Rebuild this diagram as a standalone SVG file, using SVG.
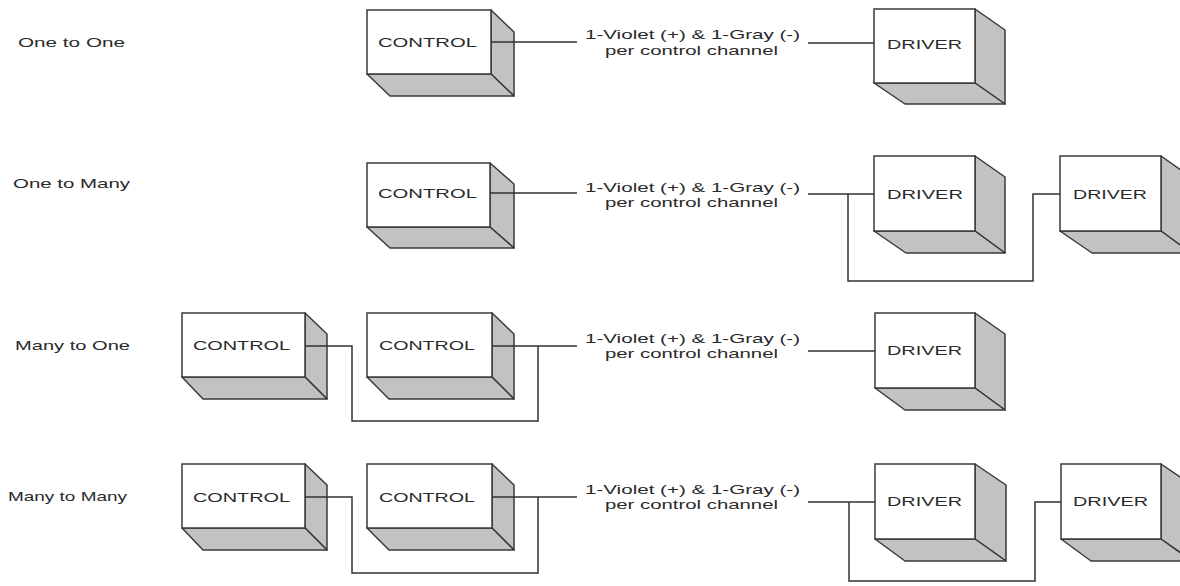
<svg xmlns="http://www.w3.org/2000/svg" width="1180" height="586" viewBox="0 0 1180 586">
  <style>
    .front { fill: #ffffff; stroke: #3a3a3a; stroke-width: 1.5; }
    .face { fill: #c2c2c2; stroke: #3a3a3a; stroke-width: 1.5; stroke-linejoin: round; }
    .lbl { font-family: "Liberation Sans", Arial, sans-serif; font-size: 13.5px; fill: #2a2a2a; }
    .wire { fill: none; stroke: #333333; stroke-width: 1.5; }
  </style>
  <rect width="1180" height="586" fill="#ffffff"/>

  <!-- row titles -->
  <g id="titles">
    <text class="lbl" x="18" y="47" textLength="107" lengthAdjust="spacingAndGlyphs">One to One</text>
    <text class="lbl" x="13" y="188" textLength="117" lengthAdjust="spacingAndGlyphs">One to Many</text>
    <text class="lbl" x="15" y="350" textLength="115" lengthAdjust="spacingAndGlyphs">Many to One</text>
    <text class="lbl" x="8" y="501" textLength="119" lengthAdjust="spacingAndGlyphs">Many to Many</text>
  </g>

  <!-- Row 1 -->
  <g id="r1-control">
    <polygon class="face" points="491,10 514,32 514,96 491,74"/>
    <polygon class="face" points="367,74 491,74 514,96 390,96"/>
    <rect class="front" x="367" y="10" width="124" height="64"/>
    <text class="lbl" x="378" y="47" textLength="99" lengthAdjust="spacingAndGlyphs">CONTROL</text>
  </g>
  <g id="r1-driver">
    <polygon class="face" points="975,9 1005,30 1005,104 975,83"/>
    <polygon class="face" points="874,83 975,83 1005,104 905,104"/>
    <rect class="front" x="874" y="9" width="101" height="74"/>
    <text class="lbl" x="887" y="49" textLength="75" lengthAdjust="spacingAndGlyphs">DRIVER</text>
  </g>

  <!-- Row 2 -->
  <g id="r2-control">
    <polygon class="face" points="490,163 514,184 514,248 490,227"/>
    <polygon class="face" points="367,227 490,227 514,248 390,248"/>
    <rect class="front" x="367" y="163" width="123" height="64"/>
    <text class="lbl" x="378" y="198" textLength="99" lengthAdjust="spacingAndGlyphs">CONTROL</text>
  </g>
  <g id="r2-driver-a">
    <polygon class="face" points="975,156 1005,177 1005,253 975,231"/>
    <polygon class="face" points="874,231 975,231 1005,253 906,253"/>
    <rect class="front" x="874" y="156" width="101" height="75"/>
    <text class="lbl" x="887" y="199" textLength="76" lengthAdjust="spacingAndGlyphs">DRIVER</text>
  </g>
  <g id="r2-driver-b">
    <polygon class="face" points="1161,156 1191,177 1191,253 1161,231"/>
    <polygon class="face" points="1060,231 1161,231 1191,253 1092,253"/>
    <rect class="front" x="1060" y="156" width="101" height="75"/>
    <text class="lbl" x="1073" y="199" textLength="74" lengthAdjust="spacingAndGlyphs">DRIVER</text>
  </g>

  <!-- Row 3 -->
  <g id="r3-control-a">
    <polygon class="face" points="305,313 327,334 327,399 305,377"/>
    <polygon class="face" points="182,377 305,377 327,399 203,399"/>
    <rect class="front" x="182" y="313" width="123" height="64"/>
    <text class="lbl" x="193" y="350" textLength="97" lengthAdjust="spacingAndGlyphs">CONTROL</text>
  </g>
  <g id="r3-control-b">
    <polygon class="face" points="492,313 514,334 514,399 492,377"/>
    <polygon class="face" points="367,377 492,377 514,399 389,399"/>
    <rect class="front" x="367" y="313" width="125" height="64"/>
    <text class="lbl" x="379" y="350" textLength="96" lengthAdjust="spacingAndGlyphs">CONTROL</text>
  </g>
  <g id="r3-driver">
    <polygon class="face" points="975,313 1005,334 1005,410 975,388"/>
    <polygon class="face" points="875,388 975,388 1005,410 905,410"/>
    <rect class="front" x="875" y="313" width="100" height="75"/>
    <text class="lbl" x="887" y="355" textLength="75" lengthAdjust="spacingAndGlyphs">DRIVER</text>
  </g>

  <!-- Row 4 -->
  <g id="r4-control-a">
    <polygon class="face" points="305,464 327,485 327,550 305,528"/>
    <polygon class="face" points="182,528 305,528 327,550 203,550"/>
    <rect class="front" x="182" y="464" width="123" height="64"/>
    <text class="lbl" x="193" y="502" textLength="97" lengthAdjust="spacingAndGlyphs">CONTROL</text>
  </g>
  <g id="r4-control-b">
    <polygon class="face" points="492,464 514,485 514,550 492,528"/>
    <polygon class="face" points="367,528 492,528 514,550 389,550"/>
    <rect class="front" x="367" y="464" width="125" height="64"/>
    <text class="lbl" x="379" y="502" textLength="96" lengthAdjust="spacingAndGlyphs">CONTROL</text>
  </g>
  <g id="r4-driver-a">
    <polygon class="face" points="975,464 1006,485 1006,561 975,539"/>
    <polygon class="face" points="875,539 975,539 1006,561 905,561"/>
    <rect class="front" x="875" y="464" width="100" height="75"/>
    <text class="lbl" x="887" y="506" textLength="75" lengthAdjust="spacingAndGlyphs">DRIVER</text>
  </g>
  <g id="r4-driver-b">
    <polygon class="face" points="1161,464 1192,485 1192,561 1161,539"/>
    <polygon class="face" points="1061,539 1161,539 1192,561 1091,561"/>
    <rect class="front" x="1061" y="464" width="100" height="75"/>
    <text class="lbl" x="1073" y="506" textLength="75" lengthAdjust="spacingAndGlyphs">DRIVER</text>
  </g>

  <!-- wiring -->
  <g id="connectors">
    <path class="wire" d="M491 42 H577 M808 43 H874"/>
    <path class="wire" d="M490 193 H577 M808 194 H874 M848 194 V281 H1033 V194 H1060"/>
    <path class="wire" d="M305 346 H352 V421 H538 V346 M492 346 H577 M808 351 H875"/>
    <path class="wire" d="M305 497 H352 V573 H538 V497 M492 497 H577 M808 502 H875 M849 502 V581 H1035 V502 H1061"/>
  </g>

  <!-- wire labels -->
  <g id="wire-labels">
    <text class="lbl" x="585" y="39" textLength="215" lengthAdjust="spacingAndGlyphs">1-Violet (+) &amp; 1-Gray (-)</text>
    <text class="lbl" x="605" y="55" textLength="173" lengthAdjust="spacingAndGlyphs">per control channel</text>
    <text class="lbl" x="585" y="192" textLength="215" lengthAdjust="spacingAndGlyphs">1-Violet (+) &amp; 1-Gray (-)</text>
    <text class="lbl" x="605" y="207" textLength="173" lengthAdjust="spacingAndGlyphs">per control channel</text>
    <text class="lbl" x="585" y="343" textLength="215" lengthAdjust="spacingAndGlyphs">1-Violet (+) &amp; 1-Gray (-)</text>
    <text class="lbl" x="605" y="358" textLength="173" lengthAdjust="spacingAndGlyphs">per control channel</text>
    <text class="lbl" x="585" y="494" textLength="215" lengthAdjust="spacingAndGlyphs">1-Violet (+) &amp; 1-Gray (-)</text>
    <text class="lbl" x="605" y="509" textLength="173" lengthAdjust="spacingAndGlyphs">per control channel</text>
  </g>
</svg>
